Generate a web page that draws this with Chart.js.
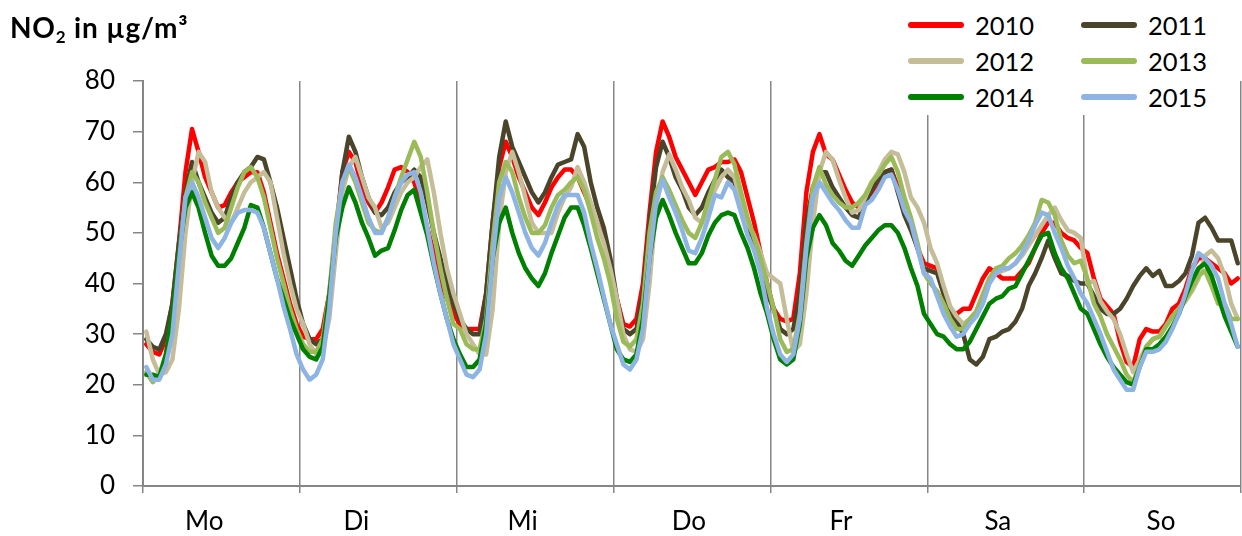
<!DOCTYPE html>
<html><head><meta charset="utf-8">
<script src="https://cdn.jsdelivr.net/npm/chart.js@4/dist/chart.umd.min.js"></script>
<style>
html,body{margin:0;padding:0;background:#fff;}
#wrap{position:relative;width:1242px;height:536px;font-family:Lato,'Open Sans',sans-serif;color:#000;}
#title{position:absolute;left:10px;top:13px;font-weight:bold;font-size:28px;line-height:28px;letter-spacing:0.8px;white-space:nowrap;}
#title sub{font-size:17px;vertical-align:-5px;line-height:0;}
#legend{position:absolute;left:893px;top:0;width:335px;height:115px;background:#fff;}
.item{position:absolute;height:36px;line-height:36px;display:flex;align-items:center;font-size:25.5px;white-space:nowrap;}
.sw{width:56px;height:5.5px;border-radius:3px;margin-right:11px;}
canvas{position:absolute;left:0;top:0;}
</style></head>
<body>
<div id="wrap">
<canvas id="c" width="1242" height="536"></canvas>
<div id="title">NO<sub>2</sub> in µg/m³</div>
<div id="legend"></div>
</div>
<script>
const dayNames = ['Mo','Di','Mi','Do','Fr','Sa','So'];
// where each day name sits along the day axis (in days from the start of the week)
const dayLabelPos = [0.39, 1.36, 2.42, 3.48, 4.45, 5.45, 6.49];
const years = ['2010','2011','2012','2013','2014','2015'];
const colors = ['#FF0000','#4A452A','#C4BD97','#9BBB59','#008000','#8EB4E3'];

const y2010 = [
 28,26.5,26,29,36,48,62,70.5,66,61,58,55,55.5,58,60,61,62,62,58,52,46,41,36,32,
 29.5,29,29,31,38,50,62,66,64,59,56,54,56,59,62.5,63,62,60,56,51,46,41,37,34,
 32,31,31,31,38,52,63,68,65,61,58,55,53.5,56,59,61,62.5,62.5,61,58,55,52,49,42,
 37,32,31.5,33,40,54,66,72,69,65,62.5,60,57.5,60,62.5,63,64,64,64.5,62,57,52,46,40,
 35,33,32.5,33,42,58,66,69.5,65.5,64.5,61.5,58.5,56,55,56.5,58,60,62,62.5,59,55,51,47,44,
 43.5,43,38,34,34,35,35,38,41,43,42,41,41,41,42.5,44,47,50,52,52,50,49,48.5,47,
 46,41,37,35.5,34,28.5,24.5,23.5,29,31,30.5,30.5,32,35,36,39,43,45,45,44,43,42,40,41];
const y2011 = [
 29,27.5,27,30,36,48,58,64,60,57,54,52,53,57,60,62,63,65,64.5,60,55,49,43,37,
 32,29,28,29,36,48,62,69,66,61,57,54,53.5,55,58,60,61,62.5,61,56,50,45,40,36,
 33,31,30,30,38,52,65,72,67,64,61,58,56,58,61,63.5,64,64.5,69.5,67,60,55,51,45,
 37,31,30,31,38,52,63,68,65,61,58.5,55,53.5,55,58,60.5,62.5,61,60,56,52,48,43,38,
 35,31,30,31,38,52,59,62,62,59,57,55,53.5,53,56,58.5,60.5,62,62.5,58,53.5,50.5,47,43,
 42.5,42,38,34.5,32.5,30,25,24,25.5,29,29.5,30.5,31,32.5,35,39.5,42,45,48.5,45,42,41.5,40.5,40,
 40,37.5,35,34,34,35,37,39.5,41.5,43,41.5,42.5,39.5,39.5,40.5,42,45.5,52,53,51,48.5,48.5,48.5,44];
const y2012 = [
 30.5,25,22,22.5,25,35,50,60,66,64,58,55,53,52,55,58,60,61,62,60,53,46,40,35,
 32,28,26,27,33,46,58,63,65,61,57,55,51,52,55,58,60,61,63,64.5,58,50,43,38,
 34,30,28,26,26,35,52,62,66,62,57,52,50,50,50,54,57,59,63,60,56,52,48,43,
 37,30,27,26.5,29,40,55,62,65.5,62.5,59,56.5,53,52,55,58.5,61,62.5,61,56,52,49.5,46,42,
 41,40,33,26.5,28,38,52,62,66,64.5,60.5,57,54,54.5,57,60,62,64.5,66,65.5,62,57,55,52,
 47,44,39.5,35.5,33.5,32,33,34.5,38,41,42,42.5,43,44,45.5,47.5,49.5,51.5,53.5,55,52.5,50.5,50,49,
 40,40.5,36.5,34.5,33,30,26,22.5,25,27.5,29,29.5,31.5,33.5,35,36.5,38.5,41,45.5,46.5,45,41.5,36,33];
const y2013 = [
 22.5,20.5,22,26,33,45,57,62,60,56,53,50,51,55,59,62,63,61,57,51,45,40,35,31,
 28,26.5,26.5,29,38,52,60,63,60,56,52,50.5,50,53,57,61,64.5,68,65,58,50,43,37,32,
 31,28,27,27,33,48,60,64,62,57,53,50,50,51.5,55,57.5,58.5,60,61,58.5,54,49,45,40,
 33,28.5,27.5,29,36,50,58,61,58.5,55.5,52.5,50,49,52,56.5,60.5,65,66,63.5,58,53,49,45,40,
 35,29,26.5,27,34,48,59,63,59.5,57.5,56,55,55,56,57.5,60,61.5,63.5,65,62,57,53,48,42,
 40,38.5,36,33,31,31,33,34.5,37.5,41,43,43.5,45,46,47.5,49.5,52,56.5,56,53.5,48.5,45.5,44,44.5,
 41,36,33.5,30,27.5,25,22,20.5,24,27.5,29,29.5,31.5,33.5,35,37,39,41.5,42.5,39.5,36,36,33,33];
const y2014 = [
 22,22,21.5,26,34,46,55,58,55,50,45.5,43.5,43.5,45,48,51,55.5,55,51,46,41,37,33,30,
 27,25.5,25,27.5,37.5,49,55,59,56,52,49,45.5,46.5,47,50.5,54.5,57.5,58.5,54,49.5,43.5,38,33,29,
 26,23.5,23.5,25,32,45,52,55,50,46,43,41,39.5,42,46,49.5,53,55,55,51.5,47,42,37,32,
 27,25,24.5,26,33,45,53,56.5,53.5,50,47,44,44,46,49.5,52,53.5,54,53.5,50,47,43,38,34,
 29,25,24,25,32,45,51,53.5,51.5,48,46.5,44.5,43.5,45.5,47.5,49,50.5,51.5,51.5,50,47,43,39.5,34,
 32,30,29.5,28,27,27,28.5,31,33.5,36,37,37.5,39,39.5,42,44.5,47,49.5,50,46,43,41,38,35,
 34,31,28,25.5,23.5,22,20.5,20,23.5,27,27,28,29.5,31.5,34,37.5,40.5,43,44,41.5,37.5,33.5,30.5,27.5];
const y2015 = [
 23.5,21,21,24,30,44,57,60,57,53,49,47,49,52,54,54.5,54.5,54,51,46,41,35.5,31,26,
 23,21,22,25,35,50,60,63.5,61,57,53,50,50,53,57,60,61.5,62,58,51,44,38,33,28,
 25,22,21.5,23,30,45,57,61,58,54,50,47,45.5,48,52,55.5,57.5,57.5,57.5,54,48,43,37.5,32,
 28,24,23,25,31,45,56,60.5,57,54,50.5,46.5,46,49,53,57.5,57,60,58.5,54,49.5,46.5,42,35,
 30,26,24.5,26,33,47,57,60,58,56,54.5,52.5,51,51,55.5,56.5,58.5,61,61.5,58.5,54.5,52,47,42,
 41,37.5,34,31.5,29.5,30,32,33.5,36,40,42,43,43,44,46,48.5,51.5,54,53.5,50,47,43.5,41,38,
 36,33,30,26.5,23,21,19,19,23.5,26.5,26.5,27,28.5,31,34,38,42.5,46,45,43.5,41,36,32,27.5];

const seriesData = [y2010,y2011,y2012,y2013,y2014,y2015];
const hourLabels = [];
dayNames.forEach(d => { for (let h = 0; h < 24; h++) hourLabels.push(d + ' ' + h + ':00'); });

const FONT = 'Lato, "Open Sans", sans-serif';
const AXIS = '#868686';
const isBoundary = v => Math.abs(v - Math.round(v)) < 1e-9;

const datasets = years.map((y, i) => ({
  label: y, data: seriesData[i], borderColor: colors[i], backgroundColor: colors[i],
  borderWidth: 4.5, pointRadius: 0, tension: 0, fill: false,
  borderJoinStyle: 'round', borderCapStyle: 'round',
  order: years.length - i, xAxisID: 'x', yAxisID: 'y'
}));

new Chart(document.getElementById('c'), {
  type: 'line',
  data: { labels: hourLabels, datasets },
  options: {
    responsive: false, animation: false, devicePixelRatio: 1,
    layout: { padding: { left: 0, right: 1, top: 81, bottom: 0 } },
    plugins: { legend: { display: false }, tooltip: { enabled: false }, title: { display: false } },
    scales: {
      x: { type: 'category', display: false, offset: true },
      days: {
        type: 'linear', position: 'bottom', min: 0, max: dayNames.length,
        afterBuildTicks(s) {
          const t = [];
          for (let d = 0; d <= dayNames.length; d++) t.push({ value: d });
          dayLabelPos.forEach(v => t.push({ value: v }));
          t.sort((a, b) => a.value - b.value);
          s.ticks = t;
        },
        afterFit(s) { s.height = 50; s.paddingLeft = 0; s.paddingRight = 0; },
        ticks: {
          autoSkip: false, maxRotation: 0, padding: 13, color: '#000',
          font: { family: FONT, size: 26 },
          callback: v => (isBoundary(v) ? '' : dayNames[Math.floor(v)])
        },
        grid: {
          drawOnChartArea: true, drawTicks: true, tickLength: 7, lineWidth: 1.5,
          color: c => (c.tick && isBoundary(c.tick.value) ? AXIS : 'rgba(0,0,0,0)')
        },
        border: { display: true, color: AXIS, width: 2 }
      },
      y: {
        min: 0, max: 80,
        afterFit(s) { s.width = 143; s.paddingTop = 0; s.paddingBottom = 0; },
        ticks: { stepSize: 10, padding: 18, color: '#000', font: { family: FONT, size: 26 } },
        grid: { drawOnChartArea: false, drawTicks: true, tickLength: 10, color: AXIS, lineWidth: 1.5 },
        border: { display: true, color: AXIS, width: 2 }
      }
    }
  }
});

// HTML legend built from the datasets (2 columns x 3 rows), white box over the plot
const legend = document.getElementById('legend');
const colX = [15, 188];
const rowTop = [7, 43, 79];
datasets.forEach((ds, i) => {
  const it = document.createElement('div');
  it.className = 'item';
  it.style.left = colX[i % 2] + 'px';
  it.style.top = rowTop[Math.floor(i / 2)] + 'px';
  const sw = document.createElement('span');
  sw.className = 'sw';
  sw.style.background = ds.borderColor;
  const tx = document.createElement('span');
  tx.textContent = ds.label;
  it.appendChild(sw); it.appendChild(tx);
  legend.appendChild(it);
});
</script>
</body></html>
